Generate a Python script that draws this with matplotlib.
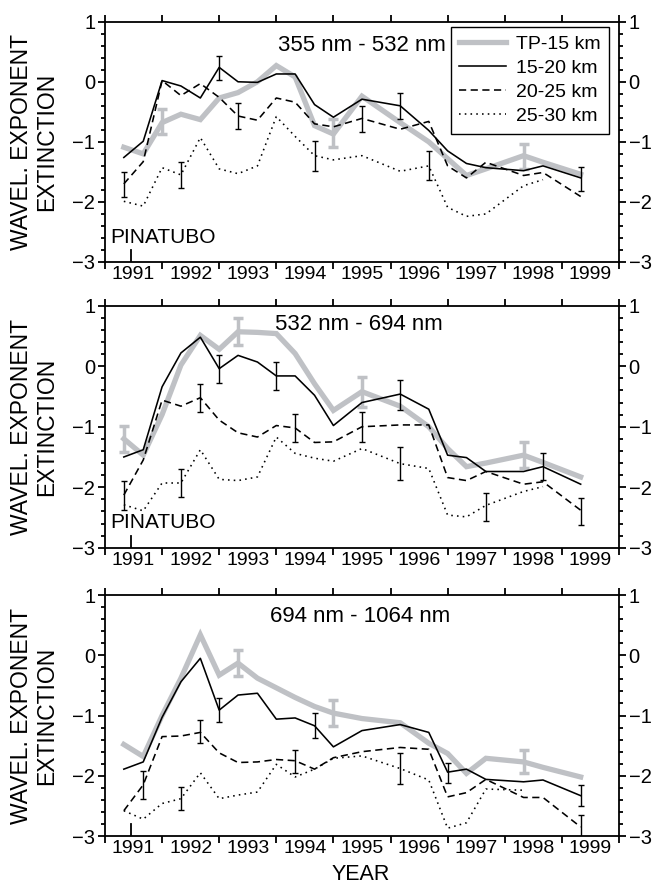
import numpy as np
import matplotlib
matplotlib.use('Agg')
import matplotlib.pyplot as plt
from matplotlib.ticker import MultipleLocator

plt.rcParams['font.family'] = ['Liberation Sans', 'DejaVu Sans']

nan = np.nan
# common time grid (decimal years)
years = [1991.33, 1991.67, 1992.0, 1992.33, 1992.67, 1993.0, 1993.33, 1993.67,
         1994.0, 1994.33, 1994.67, 1995.0, 1995.5, 1996.17, 1996.67, 1997.0,
         1997.33, 1997.67, 1998.33, 1998.67, 1999.33]

seriesNames = ['TP-15 km', '15-20 km', '20-25 km', '25-30 km']
panelTitles = ['355 nm - 532 nm', '532 nm - 694 nm', '694 nm - 1064 nm']
yearLabels = ['1991', '1992', '1993', '1994', '1995', '1996', '1997', '1998', '1999']

# panel 1 : 355 nm - 532 nm
p1_tp = [-1.09, -1.20, -0.68, -0.54, -0.63, -0.27, -0.18, 0.0, 0.27, 0.08, -0.73,
         -0.87, -0.24, -0.68, -1.0, -1.28, -1.56, -1.45, -1.23, -1.34, -1.54]
p1_1520 = [-1.26, -0.99, 0.02, -0.07, -0.27, 0.24, 0.0, -0.01, 0.13, 0.13, -0.38,
           -0.59, -0.29, -0.40, -0.81, -1.15, -1.36, -1.43, -1.48, -1.40, -1.60]
p1_2025 = [-1.70, -1.33, 0.02, -0.23, -0.03, -0.26, -0.57, -0.64, -0.27, -0.34, -0.70,
           -0.75, -0.61, -0.79, -0.66, -1.40, -1.60, -1.34, -1.56, -1.51, -1.91]
p1_2530 = [-1.99, -2.07, -1.43, -1.55, -0.93, -1.45, -1.53, -1.40, -0.58, -0.91, -1.23,
           -1.30, -1.23, -1.49, -1.40, -2.09, -2.24, -2.20, -1.73, -1.63, nan]

# panel 2 : 532 nm - 694 nm
p2_tp = [-1.20, -1.47, -0.80, 0.02, 0.51, 0.28, 0.57, 0.56, 0.54, 0.21, -0.29,
         -0.73, -0.42, -0.66, -1.0, -1.36, -1.66, -1.60, -1.47, -1.59, -1.83]
p2_1520 = [-1.50, -1.38, -0.34, 0.22, 0.48, -0.04, 0.18, 0.07, -0.16, -0.16, -0.48,
           -0.98, -0.60, -0.46, -0.71, -1.47, -1.51, -1.74, -1.74, -1.66, -1.95]
p2_2025 = [-2.13, -1.55, -0.56, -0.66, -0.52, -0.89, -1.10, -1.17, -0.98, -1.02, -1.26,
           -1.25, -1.00, -0.97, -0.97, -1.84, -1.89, -1.74, -1.95, -1.91, -2.38]
p2_2530 = [-2.29, -2.39, -1.93, -1.93, -1.38, -1.87, -1.89, -1.83, -1.17, -1.44, -1.52,
           -1.57, -1.36, -1.61, -1.69, -2.46, -2.49, -2.30, -2.07, -1.99, nan]

# panel 3 : 694 nm - 1064 nm
p3_tp = [-1.48, -1.68, -1.0, -0.38, 0.34, -0.33, -0.13, -0.38, -0.54, -0.70, -0.85,
         -0.96, -1.05, -1.12, -1.46, -1.63, -1.96, -1.71, -1.77, -1.86, -2.02]
p3_1520 = [-1.89, -1.77, -1.03, -0.44, -0.05, -0.91, -0.66, -0.63, -1.06, -1.04, -1.17,
           -1.52, -1.25, -1.15, -1.28, -1.94, -1.89, -2.06, -2.10, -2.07, -2.33]
p3_2025 = [-2.58, -2.15, -1.35, -1.34, -1.28, -1.62, -1.78, -1.77, -1.73, -1.75, -1.89,
           -1.70, -1.60, -1.53, -1.56, -2.35, -2.28, -2.06, -2.36, -2.36, -2.85]
p3_2530 = [-2.58, -2.72, -2.46, -2.38, -1.95, -2.38, -2.32, -2.27, -1.81, -2.02, -1.89,
           -1.71, -1.67, -1.88, -2.07, -2.87, -2.78, -2.22, -2.24, nan, nan]

# error bars: (x, centre, half width) per series
p1_err = [([1992.0, 1995.0, 1998.33], [-0.66, -0.85, -1.24], [0.21, 0.23, 0.21]),
          ([1993.0, 1996.17, 1999.33], [0.23, -0.40, -1.62], [0.2, 0.22, 0.2]),
          ([1991.33, 1993.33, 1995.5], [-1.71, -0.57, -0.62], [0.21, 0.21, 0.21]),
          ([1992.33, 1994.67, 1996.67], [-1.55, -1.23, -1.40], [0.21, 0.25, 0.24])]
p2_err = [([1991.33, 1993.33, 1995.5, 1998.33], [-1.20, 0.57, -0.42, -1.47], [0.22, 0.22, 0.25, 0.21]),
          ([1993.0, 1994.0, 1996.17, 1998.67], [-0.04, -0.16, -0.47, -1.66], [0.23, 0.23, 0.25, 0.22]),
          ([1991.33, 1992.67, 1994.33, 1995.5, 1999.33], [-2.13, -0.52, -1.02, -1.0, -2.40],
           [0.24, 0.23, 0.23, 0.25, 0.23]),
          ([1992.33, 1996.17, 1997.67], [-1.93, -1.61, -2.32], [0.23, 0.27, 0.23])]
p3_err = [([1993.33, 1995.0, 1998.33], [-0.13, -0.96, -1.77], [0.21, 0.22, 0.19]),
          ([1993.0, 1994.67, 1997.0, 1999.33], [-0.91, -1.17, -1.95, -2.33], [0.2, 0.21, 0.17, 0.17]),
          ([1991.67, 1992.67, 1994.33, 1999.33], [-2.15, -1.27, -1.76, -2.85], [0.23, 0.19, 0.19, 0.2]),
          ([1992.33, 1996.17], [-2.37, -1.88], [0.19, 0.25])]

panels = [[p1_tp, p1_1520, p1_2025, p1_2530],
          [p2_tp, p2_1520, p2_2025, p2_2530],
          [p3_tp, p3_1520, p3_2025, p3_2530]]
errs = [p1_err, p2_err, p3_err]

pinatubo = 1991.45
GRAY = '#bfc1c5'

fig = plt.figure(figsize=(6.52, 8.86), dpi=100)
axBoxes = [[0.161, 0.7043, 0.7883, 0.2712],
           [0.161, 0.3818, 0.7883, 0.2731],
           [0.161, 0.0564, 0.7883, 0.2720]]
titlePos = [(1995.50, 0.60), (1995.44, 0.69), (1995.47, 0.64)]

for i in range(3):
    ax = fig.add_axes(axBoxes[i])
    data = panels[i]
    # TP-15 thick gray, then the three black lines
    ax.plot(years, data[0], color=GRAY, lw=3.8, solid_joinstyle='miter', label=seriesNames[0], zorder=2)
    ax.plot(years, data[1], color='k', lw=1.15, label=seriesNames[1], zorder=3)
    ax.plot(years, data[2], color='k', lw=1.15, dashes=(4.5, 2.8), label=seriesNames[2], zorder=3)
    ax.plot(years, data[3], color='k', lw=1.15, dashes=(1, 2.6), label=seriesNames[3], zorder=3)

    ex, ey, ee = errs[i][0]
    ax.errorbar(ex, ey, yerr=ee, fmt='none', ecolor=GRAY, elinewidth=2.5, capsize=3.5, capthick=2.5, zorder=2)
    for k in range(1, 4):
        ex, ey, ee = errs[i][k]
        ax.errorbar(ex, ey, yerr=ee, fmt='none', ecolor='k', elinewidth=1.0, capsize=2.2, capthick=1.0, zorder=4)

    # Pinatubo eruption marker
    ax.plot([pinatubo, pinatubo], [-3, -2.8], color='k', lw=1.3, zorder=4)
    if i < 2:
        ax.text(1991.09, -2.59, 'PINATUBO', fontsize=15, ha='left', va='center')

    ax.text(titlePos[i][0], titlePos[i][1], panelTitles[i], fontsize=16, ha='center', va='center')

    ax.set_xlim(1991, 2000)
    ax.set_ylim(-3, 1)
    ax.xaxis.set_major_locator(MultipleLocator(1))
    ax.set_xticks(np.arange(1991.5, 2000, 1), minor=True)
    ax.set_xticklabels(yearLabels, minor=True)
    ax.tick_params(axis='x', which='major', labelbottom=False, top=True, direction='out', length=5, width=1.3)
    ax.tick_params(axis='x', which='minor', length=0, labelsize=14, pad=3)
    ax.yaxis.set_major_locator(MultipleLocator(1))
    ax.yaxis.set_minor_locator(MultipleLocator(0.2))
    ax.tick_params(axis='y', which='both', right=True, labelright=True, direction='out', width=1.3, labelsize=14.5, pad=2)
    ax.tick_params(axis='y', which='major', length=5)
    ax.tick_params(axis='y', which='minor', length=3)
    for sp in ax.spines.values():
        sp.set_linewidth(1.3)

    if i == 0:
        ax.legend(loc='upper right', bbox_to_anchor=(0.981, 0.979), fontsize=14, frameon=True, fancybox=False,
                  edgecolor='k', framealpha=1, handlelength=2.4, labelspacing=0.33, borderpad=0.45,
                  handletextpad=0.5, borderaxespad=0)

    # y label, two lines
    bx = axBoxes[i]
    fig.text(34 / 652, bx[1] + bx[3] / 2, 'WAVEL. EXPONENT\nEXTINCTION', rotation=90, fontsize=16.5,
             ha='center', va='center', multialignment='center', linespacing=1.1)

fig.text(361 / 652, 1 - 874 / 886, 'YEAR', fontsize=15.5, ha='center', va='center')

plt.savefig('out.png', dpi=100)
